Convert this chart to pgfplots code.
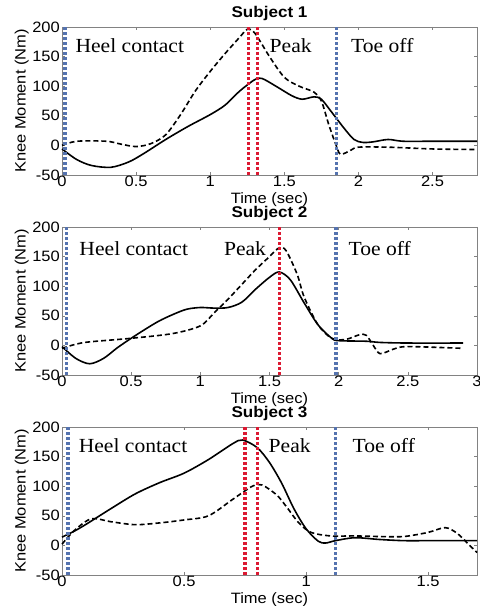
\documentclass[border=0pt]{standalone}
\usepackage{fontspec}
\setmainfont{Liberation Sans}[FakeStretch=1.1]
\newfontfamily\annfont{Liberation Serif}[FakeStretch=1.08]
\usepackage{pgfplots}
\pgfplotsset{compat=1.18}
\definecolor{vblue}{RGB}{85,115,175}
\definecolor{vred}{RGB}{220,25,50}
\definecolor{framegray}{RGB}{130,130,130}
\tikzset{
  ann/.style={anchor=west, inner sep=0pt, font=\annfont\fontsize{20bp}{20bp}\selectfont},
  solidc/.style={black, line width=1.6bp, smooth},
  dashc/.style={black, line width=1.6bp, smooth, dash pattern=on 5bp off 3bp},
  vb/.style={vblue, line width=3.3bp, dash pattern=on 3bp off 2bp},
  vr/.style={vred, line width=3.3bp, dash pattern=on 3bp off 2bp},
}
\pgfplotsset{
  kneeaxis/.style={
    scale only axis, width=415bp, height=148bp,
    ymin=-50, ymax=200, ytick={-50,0,50,100,150,200},
    xmin=0,
    axis line style={framegray}, tick style={framegray, thin},
    major tick length=3bp, tick align=inside,
    /pgf/number format/assume math mode=true,
    tick label style={font=\fontsize{15bp}{15bp}\selectfont},
    xticklabel style={inner sep=1bp},
    yticklabel style={inner sep=2bp},
    label style={font=\fontsize{15bp}{15bp}\selectfont},
    xlabel={Time (sec)},
    ylabel={Knee Moment (Nm)},
    ylabel style={yshift=-2bp},
    xlabel style={yshift=-1bp},
    title style={font=\bfseries\fontsize{15.5bp}{15.5bp}\selectfont, yshift=-3bp},
    clip=false,
  },
}
\begin{document}
\begin{tikzpicture}
\useasboundingbox (0,0) rectangle (480bp,606bp);
% ---------------- Subject 1 ----------------
\begin{axis}[kneeaxis, at={(62bp,431bp)}, anchor=south west,
  title={Subject 1}, xmax=2.8, xtick={0,0.5,1,1.5,2,2.5}]
\addplot[solidc] coordinates {
(0,-6) (0.1,-24) (0.2,-34) (0.33,-37) (0.45,-28) (0.55,-14) (0.7,10) (0.85,32)
(1.0,52) (1.1,68) (1.2,92) (1.3,111) (1.35,113) (1.45,99) (1.55,84) (1.62,78)
(1.7,82) (1.75,78) (1.82,56) (1.9,30) (1.97,10) (2.03,5) (2.1,6) (2.2,10)
(2.3,7) (2.5,7) (2.8,7)};
\addplot[dashc] coordinates {
(0,0) (0.1,7) (0.3,7) (0.4,2) (0.5,-2) (0.6,3) (0.7,18) (0.8,52) (0.9,92)
(1.0,125) (1.1,155) (1.2,183) (1.25,196) (1.3,190) (1.4,150) (1.5,115)
(1.6,100) (1.7,90) (1.75,75) (1.8,35) (1.85,0) (1.88,-15) (1.95,-8) (2.0,-3)
(2.2,-3) (2.5,-6) (2.8,-7)};
\addplot[vb] coordinates {(0.02,-50) (0.02,200)};
\addplot[vb] coordinates {(1.85,-50) (1.85,200)};
\addplot[vr] coordinates {(1.26,-50) (1.26,200)};
\addplot[vr] coordinates {(1.32,-50) (1.32,200)};
\node[ann] at (axis cs:0.09,169) {Heel contact};
\node[ann] at (axis cs:1.40,169) {Peak};
\node[ann] at (axis cs:1.95,169) {Toe off};
\end{axis}
% ---------------- Subject 2 ----------------
\begin{axis}[kneeaxis, at={(62bp,231bp)}, anchor=south west,
  title={Subject 2}, xmax=3, xtick={0,0.5,1,1.5,2,2.5,3}]
\addplot[solidc] coordinates {
(0,-2) (0.1,-22) (0.2,-31) (0.3,-22) (0.4,-4) (0.5,12) (0.6,27) (0.7,41)
(0.8,52) (0.9,61) (1.0,64) (1.1,63) (1.2,64) (1.3,73) (1.4,95) (1.5,115)
(1.57,124) (1.65,111) (1.75,72) (1.85,35) (1.95,12) (2.0,8) (2.2,7) (2.3,5)
(2.5,4) (2.9,4)};
\addplot[dashc] coordinates {
(0,-5) (0.1,2) (0.2,6) (0.5,12) (0.8,20) (1.0,33) (1.1,55) (1.2,78) (1.3,103)
(1.4,128) (1.5,150) (1.57,165) (1.62,160) (1.7,120) (1.75,82) (1.85,35)
(1.95,12) (2.05,10) (2.15,18) (2.2,17) (2.25,0) (2.3,-14) (2.4,-6) (2.5,-2)
(2.9,-5)};
\addplot[vb] coordinates {(0.035,-50) (0.035,200)};
\addplot[vb] coordinates {(1.98,-50) (1.98,200)};
\addplot[vr] coordinates {(1.57,-50) (1.57,200)};
\node[ann] at (axis cs:0.125,163) {Heel contact};
\node[ann] at (axis cs:1.17,163) {Peak};
\node[ann] at (axis cs:2.07,163) {Toe off};
\end{axis}
% ---------------- Subject 3 ----------------
\begin{axis}[kneeaxis, at={(62bp,31bp)}, anchor=south west,
  title={Subject 3}, xmax=1.7, xtick={0,0.5,1,1.5}]
\addplot[solidc] coordinates {
(0,14) (0.05,24) (0.1,36) (0.2,62) (0.3,87) (0.4,106) (0.5,122) (0.6,145)
(0.7,172) (0.74,178) (0.8,165) (0.85,140) (0.9,105) (0.95,62) (1.0,28)
(1.05,7) (1.08,4) (1.12,8) (1.2,13) (1.3,10) (1.4,8) (1.5,8) (1.7,8)};
\addplot[dashc] coordinates {
(0,2) (0.05,25) (0.12,45) (0.2,40) (0.3,35) (0.4,38) (0.5,43) (0.6,50)
(0.7,78) (0.78,100) (0.82,102) (0.88,85) (0.92,65) (0.97,38) (1.02,22)
(1.1,16) (1.2,16) (1.3,15) (1.4,15) (1.5,22) (1.57,30) (1.62,20) (1.67,0)
(1.7,-12)};
\addplot[vb] coordinates {(0.025,-50) (0.025,200)};
\addplot[vb] coordinates {(1.12,-50) (1.12,200)};
\addplot[vr] coordinates {(0.75,-50) (0.75,200)};
\addplot[vr] coordinates {(0.80,-50) (0.80,200)};
\node[ann] at (axis cs:0.068,169) {Heel contact};
\node[ann] at (axis cs:0.846,169) {Peak};
\node[ann] at (axis cs:1.19,169) {Toe off};
\end{axis}
\end{tikzpicture}
\end{document}
